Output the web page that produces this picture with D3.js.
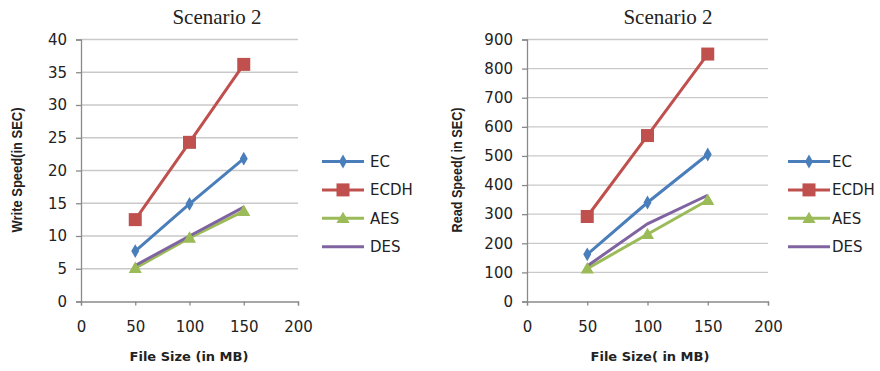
<!DOCTYPE html>
<html>
<head>
<meta charset="utf-8">
<script src="https://cdn.jsdelivr.net/npm/d3@7"></script>
<style>
  body { margin: 0; background: #fff; }
</style>
</head>
<body>
<div class="canva"></div>
<script>
const fileSizes = [50, 100, 150];
const seriesNames = ['EC', 'ECDH', 'AES', 'DES'];
const seriesColors = ['#4A7EBB', '#C0504D', '#9BBB59', '#8064A2'];

const writeEC = [7.7, 14.9, 21.8];
const writeECDH = [12.5, 24.3, 36.2];
const writeAES = [5.1, 9.7, 13.8];
const writeDES = [5.5, 10.0, 14.4];

const readEC = [162, 340, 505];
const readECDH = [292, 570, 850];
const readAES = [113, 231, 348];
const readDES = [122, 267, 365];

const xTicks = [0, 50, 100, 150, 200];
const writeTicks = [0, 5, 10, 15, 20, 25, 30, 35, 40];
const readTicks = [0, 100, 200, 300, 400, 500, 600, 700, 800, 900];

const svg = d3.select('.canva').append('svg')
    .attr('width', 880)
    .attr('height', 371);

function marker(g, type, color, x, y) {
  if (type === 'EC') {
    g.append('path').attr('d', d3.symbol(d3.symbolDiamond, 55)())
      .attr('transform', `translate(${x},${y})`).attr('fill', color);
  } else if (type === 'ECDH') {
    g.append('rect').attr('x', x - 6.5).attr('y', y - 6.5)
      .attr('width', 13).attr('height', 13).attr('fill', color);
  } else if (type === 'AES') {
    g.append('path').attr('d', d3.symbol(d3.symbolTriangle, 75)())
      .attr('transform', `translate(${x},${y + 1})`).attr('fill', color);
  } else {
    g.append('path').attr('d', d3.symbol(d3.symbolTimes, 70)())
      .attr('transform', `translate(${x},${y})`).attr('fill', '#c2b3da');
  }
}

function panel(opt) {
  const g = svg.append('g');
  const x = d3.scaleLinear().domain([0, 200]).range([opt.left, opt.right]);
  const y = d3.scaleLinear().domain([0, opt.max]).range([301.5, 39.5]);

  // gridlines
  g.selectAll('.grid').data(opt.ticks.slice(1)).join('line')
    .attr('x1', opt.left).attr('x2', opt.right)
    .attr('y1', d => y(d)).attr('y2', d => y(d))
    .attr('stroke', '#c9c9c9').attr('stroke-width', 1.3);

  const yAxis = g.append('g').attr('transform', `translate(${opt.left},0)`)
    .call(d3.axisLeft(y).tickValues(opt.ticks).tickSize(5).tickPadding(9));
  const xAxis = g.append('g').attr('transform', 'translate(0,301.5)')
    .call(d3.axisBottom(x).tickValues(xTicks).tickSize(4).tickPadding(16));
  [yAxis, xAxis].forEach(a => {
    a.select('.domain').attr('stroke', '#8a8a8a').attr('stroke-width', 1.3);
    a.selectAll('.tick line').attr('stroke', '#8a8a8a').attr('stroke-width', 1.3);
    a.selectAll('text').attr('font-family', 'DejaVu Sans').attr('font-size', 15)
      .attr('fill', '#222');
  });

  g.append('text').attr('x', opt.titleX).attr('y', 24)
    .attr('text-anchor', 'middle').attr('font-family', 'Liberation Serif')
    .attr('font-size', 21).attr('fill', '#222').text('Scenario 2');

  g.append('text').attr('x', opt.xTitleX).attr('y', 361)
    .attr('text-anchor', 'middle').attr('font-family', 'DejaVu Sans')
    .attr('font-weight', 'bold').attr('font-size', 13).attr('fill', '#222')
    .text(opt.xTitle);

  g.append('text').attr('transform', `translate(${opt.yTitleX},170) rotate(-90)`)
    .attr('text-anchor', 'middle').attr('font-family', 'Liberation Sans')
    .attr('font-weight', 'bold').attr('font-size', 14).attr('fill', '#222')
    .attr('textLength', opt.yTitleLen).attr('lengthAdjust', 'spacingAndGlyphs')
    .text(opt.yTitle);

  const line = d3.line().x((d, i) => x(fileSizes[i])).y(d => y(d));
  opt.series.forEach((vals, k) => {
    g.append('path').attr('d', line(vals)).attr('fill', 'none')
      .attr('stroke', seriesColors[k]).attr('stroke-width', 3);
  });
  opt.series.forEach((vals, k) => {
    vals.forEach((v, i) => marker(g, seriesNames[k], seriesColors[k], x(fileSizes[i]), y(v)));
  });

  // legend
  seriesNames.forEach((name, k) => {
    const ly = 161.5 + k * 28.4;
    g.append('line').attr('x1', opt.legendX).attr('x2', opt.legendX + 42)
      .attr('y1', ly).attr('y2', ly)
      .attr('stroke', seriesColors[k]).attr('stroke-width', 3);
    marker(g, name, seriesColors[k], opt.legendX + 21, ly);
    g.append('text').attr('x', opt.legendX + opt.legendGap).attr('y', ly + 5.5)
      .attr('font-family', 'DejaVu Sans').attr('font-size', 15).attr('fill', '#222')
      .text(name);
  });
}

panel({
  left: 81, right: 298, max: 40, ticks: writeTicks,
  series: [writeEC, writeECDH, writeAES, writeDES],
  titleX: 217, yTitleX: 22, yTitleLen: 125, xTitleX: 189,
  xTitle: 'File Size (in MB)', yTitle: 'Write Speed(in SEC)',
  legendX: 322, legendGap: 48
});

panel({
  left: 527, right: 768, max: 900, ticks: readTicks,
  series: [readEC, readECDH, readAES, readDES],
  titleX: 668, yTitleX: 462, yTitleLen: 125, xTitleX: 650,
  xTitle: 'File Size( in MB)', yTitle: 'Read Speed( in SEC)',
  legendX: 788, legendGap: 44
});
</script>
</body>
</html>
